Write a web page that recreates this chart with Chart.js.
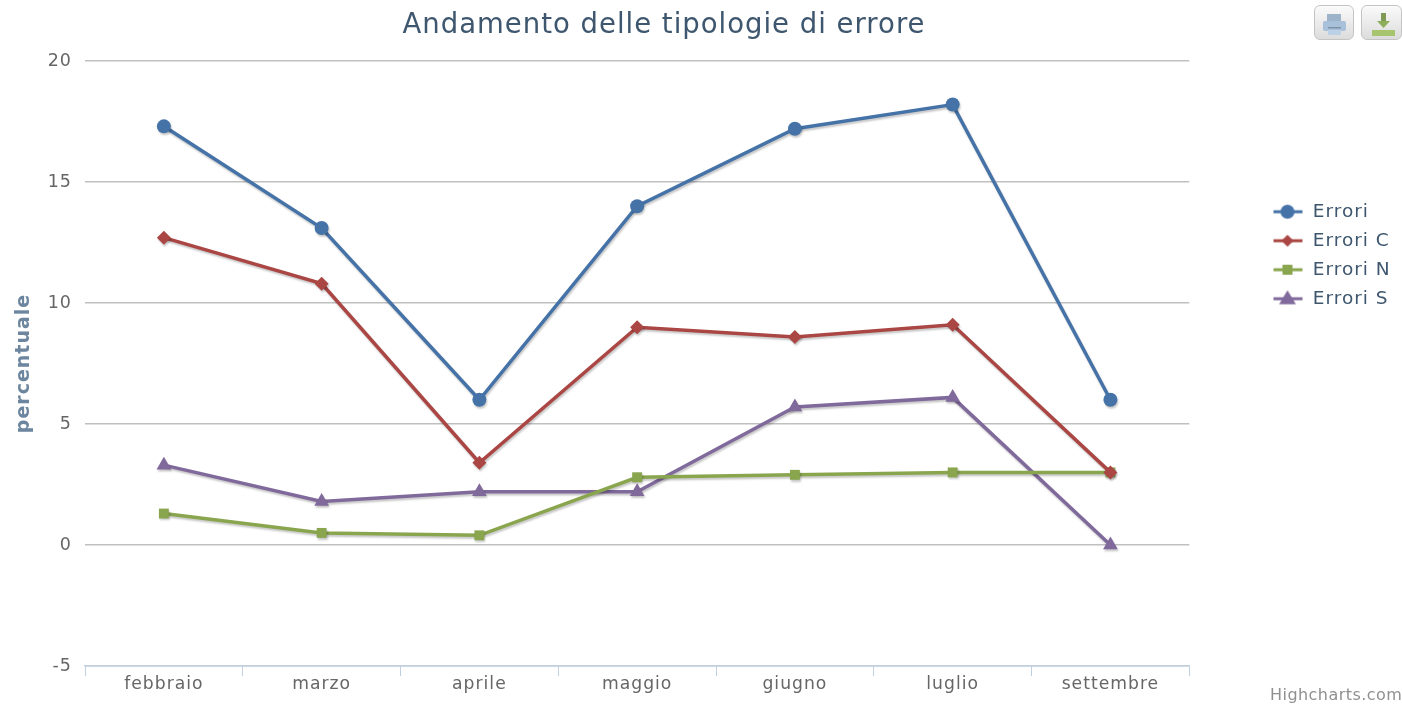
<!DOCTYPE html>
<html><head><meta charset="utf-8">
<style>
html,body{margin:0;padding:0;background:#fff;width:1402px;height:704px;overflow:hidden}
#w{position:relative;width:1402px;height:704px}
canvas#c{position:absolute;left:0;top:0;filter:blur(0.5px)}
.btn{position:absolute;top:5px;width:40px;height:35px;box-sizing:border-box;border:1.5px solid #c4c4c4;border-radius:6px;background:linear-gradient(#fafafa,#dcdcdc);filter:blur(0.6px)}
.btn svg{position:absolute;left:0;top:0}
#credit{position:absolute;left:1270px;top:685px;font:16px "DejaVu Sans";letter-spacing:.45px;color:#909090;filter:blur(0.3px)}
</style></head><body>
<div id="w">
<canvas id="c" width="1402" height="704"></canvas>
<div class="btn" style="left:1314px"><svg width="40" height="35"><rect x="12" y="8" width="14" height="8" fill="#9db3ca"/><rect x="8" y="15" width="23" height="10" rx="2" fill="#a9c0da"/><rect x="13" y="24" width="13" height="5" fill="#bcd0e6"/><rect x="13" y="21" width="13" height="1.5" fill="#7f93a8"/></svg></div>
<div class="btn" style="left:1361px;width:41px"><svg width="41" height="35"><rect x="19" y="7" width="5" height="9" fill="#7f9a55"/><path d="M15 15h13l-6.500 7z" fill="#8fae5c"/><rect x="10" y="24" width="23" height="6" fill="#a7c46e"/></svg></div>
<div id="credit">Highcharts.com</div>
</div>
<script src="https://cdn.jsdelivr.net/npm/chart.js@4/dist/chart.umd.min.js"></script>
<script>
const categories = ["febbraio","marzo","aprile","maggio","giugno","luglio","settembre"];
const errori  = [17.3,13.1,6.0,14.0,17.2,18.2,6.0];
const erroriC = [12.7,10.8,3.4,9.0,8.6,9.1,3.0];
const erroriN = [1.3,0.5,0.4,2.8,2.9,3.0,3.0];
const erroriS = [3.3,1.8,2.2,2.2,5.7,6.1,0.0];
const yTicks = [-5,0,5,10,15,20];
const titleText = "Andamento delle tipologie di errore";
const yTitle = "percentuale";
const FONT = '"DejaVu Sans"';

function marker(ctx,style,x,y,r,color){
  ctx.fillStyle=color;ctx.beginPath();
  if(style==='circle'){ctx.arc(x,y,r,0,Math.PI*2);}
  else if(style==='rectRot'){ctx.moveTo(x,y-r);ctx.lineTo(x+r,y);ctx.lineTo(x,y+r);ctx.lineTo(x-r,y);ctx.closePath();}
  else if(style==='rect'){ctx.rect(x-r,y-r,2*r,2*r);}
  else {ctx.moveTo(x,y-r*1.2);ctx.lineTo(x+r*1.2,y+r*0.8);ctx.lineTo(x-r*1.2,y+r*0.8);ctx.closePath();}
  ctx.fill();
}
function legendIcon(style,color,r){
  const c=document.createElement('canvas');c.width=32;c.height=20;
  const x=c.getContext('2d');
  x.strokeStyle=color;x.lineWidth=3;x.beginPath();x.moveTo(1,10);x.lineTo(30,10);x.stroke();
  marker(x,style,15,10,r,color);
  return c;
}
function ds(label,data,color,style,r,lr){
  return {label,data,borderColor:color,backgroundColor:color,borderWidth:3.5,tension:0,
    pointStyle:style,pointRadius:r,pointHoverRadius:r,pointBorderWidth:0,pointBackgroundColor:color,
    clip:false,_icon:legendIcon(style,color,lr)};
}
const placer={id:'placer',
  beforeUpdate(ch){ch.ctx.letterSpacing='1px';},
  beforeDraw(ch){ch.ctx.letterSpacing='1px';},
  afterLayout(ch){
    const t=ch.titleBlock; if(t){t.left=0;t.right=1328;t.top=9;t.bottom=t.top+t.height;}
    const l=ch.legend; if(l){const dx=1263-l.left,dy=192-l.top;l.left+=dx;l.right+=dx;l.top+=dy;l.bottom+=dy;}
  },
  beforeDatasetDraw(ch){const c=ch.ctx;c.save();c.shadowColor='rgba(0,0,0,0.22)';c.shadowOffsetX=1;c.shadowOffsetY=2;c.shadowBlur=2;},
  afterDatasetDraw(ch){ch.ctx.restore();}
};
new Chart(document.getElementById('c'),{
  type:'line',
  data:{labels:categories,datasets:[
    ds('Errori',errori,'#4572A7','circle',7,7),
    ds('Errori C',erroriC,'#AA4643','rectRot',7,6),
    ds('Errori N',erroriN,'#89A54E','rect',7,5),
    ds('Errori S',erroriS,'#80699B','triangle',8.5,7)
  ]},
  options:{
    responsive:false,animation:false,devicePixelRatio:1,
    layout:{padding:{left:0,right:75,top:0,bottom:0}},
    plugins:{
      tooltip:{enabled:false},
      title:{display:true,text:titleText,color:'#3E576F',font:{family:FONT,size:27.5,weight:'normal'},padding:{top:0,bottom:28}},
      legend:{position:'right',align:'start',
        labels:{usePointStyle:true,pointStyleWidth:30,color:'#3E576F',font:{family:FONT,size:18.5},padding:10.5,
          generateLabels(ch){return ch.data.datasets.map((d,i)=>({text:d.label,fontColor:'#3E576F',pointStyle:d._icon,datasetIndex:i,hidden:false,lineWidth:0}));}
        }}
    },
    scales:{
      x:{offset:true,
        afterFit(s){s.height=38;},
        grid:{display:true,drawOnChartArea:false,drawTicks:true,tickLength:10,color:'#C0D0E0',offset:true},
        border:{color:'#C0D0E0',width:1.5},
        ticks:{color:'#666',font:{family:FONT,size:17.2},padding:-2,maxRotation:0}},
      y:{min:-5,max:20,
        afterBuildTicks(s){s.ticks=yTicks.map(v=>({value:v}));},
        afterFit(s){s.width=85;},
        grid:{color:'#C0C0C0',lineWidth:1.5,drawTicks:false},
        border:{display:false},
        title:{display:true,text:yTitle,color:'#6D869F',font:{family:FONT,size:19,weight:'bold'},padding:{top:13,bottom:0}},
        ticks:{color:'#666',font:{family:FONT,size:17.5},padding:13}}
    }
  },
  plugins:[placer]
});
</script></body></html>
